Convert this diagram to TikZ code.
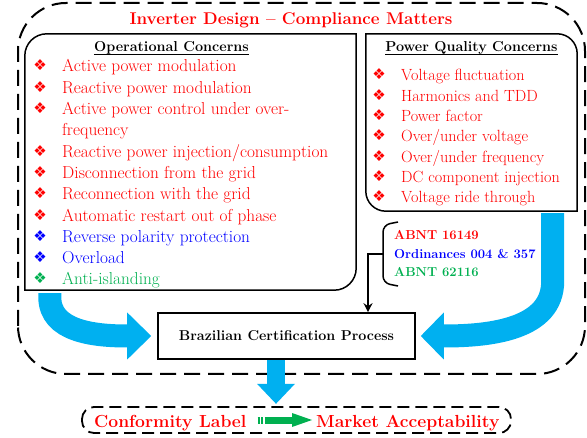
\documentclass[tikz,border=0pt]{standalone}
\usepackage{fontspec}
\usetikzlibrary{arrows.meta}
\newfontfamily\dejavu{DejaVu Sans}
\definecolor{cred}{RGB}{255,0,0}
\definecolor{cblue}{RGB}{0,0,255}
\definecolor{cgreen}{RGB}{0,176,80}
\definecolor{ccyan}{RGB}{0,176,240}

\begin{document}
\begin{tikzpicture}[x=1pt,y=1pt,
        txt/.style={inner sep=0pt,anchor=base west},
        item/.style={txt,font=\fontsize{17.3}{20}\selectfont},
        pqitem/.style={txt,font=\fontsize{16.2}{20}\selectfont},
        dot/.style={inner sep=0pt,font=\dejavu\fontsize{15}{15}\selectfont},
        header/.style={inner sep=0pt,anchor=base,font=\bfseries\fontsize{14.4}{16}\selectfont},
        std/.style={txt,font=\bfseries\fontsize{13}{15}\selectfont},
        panel/.style={draw,line width=1.5pt},
        flow/.style={draw=ccyan,line width=23pt},
        outline/.style={draw,line width=2pt,dash pattern=on 16pt off 8pt}]
  \useasboundingbox (0,0) rectangle (587,437);
  \draw[outline,rounded corners=48] (18,63) rectangle (585,434);
  \node[inner sep=0pt,anchor=base,text=cred,font=\bfseries\fontsize{17}{20}\selectfont] (title) at (291,412)
    {Inverter Design \textendash{} Compliance Matters};

  \node[minimum width=331,minimum height=256] (opsbox) at (190.5,275) {};
  \draw[panel] (opsbox.south west) -- ([yshift=-22pt]opsbox.north west)
    arc[start angle=180,end angle=90,radius=22] -- (opsbox.north east)
    -- ([yshift=22pt]opsbox.south east) arc[start angle=0,end angle=-90,radius=22] -- cycle;
  \node[minimum width=211,minimum height=177] (pqbox) at (471.5,314.5) {};
  \draw[panel] (pqbox.north west) -- ([xshift=-20pt]pqbox.north east)
    arc[start angle=90,end angle=0,radius=20] -- (pqbox.south east)
    -- ([xshift=20pt]pqbox.south west) arc[start angle=270,end angle=180,radius=20] -- cycle;

  \node[header] (ophead) at (171.5,385) {Operational Concerns};
  \draw[line width=0.9pt] ([yshift=-2pt]ophead.base west) -- ([yshift=-2pt]ophead.base east);
  \node[header] (pqhead) at (471.5,385) {Power Quality Concerns};
  \draw[line width=0.9pt] ([yshift=-2pt]pqhead.base west) -- ([yshift=-2pt]pqhead.base east);

  \foreach \k/\txt/\col in {0/Active power modulation/cred, 1/Reactive power modulation/cred,
      2/Active power control under over-/cred, 4/{Reactive power injection/consumption}/cred,
      5/Disconnection from the grid/cred, 6/Reconnection with the grid/cred,
      7/Automatic restart out of phase/cred, 8/Reverse polarity protection/cblue,
      9/Overload/cblue, 10/Anti-islanding/cgreen}{
    \node[dot,text=\col] (opb\k) at (40,365-21.3*\k+6.5) {❖};
    \node[item,text=\col] (op\k) at (62,365-21.3*\k) {\txt};
  }
  \node[item,text=cred] (op3) at (62,365-21.3*3) {frequency};

  \foreach \k/\txt in {0/Voltage fluctuation, 1/Harmonics and TDD, 2/Power factor,
      3/{Over/under voltage}, 4/{Over/under frequency}, 5/DC component injection,
      6/Voltage ride through}{
    \node[dot,text=cred] (pqb\k) at (379,356-20.3*\k+6.5) {❖};
    \node[pqitem,text=cred] (pq\k) at (401,356-20.3*\k) {\txt};
  }

  \node[std,text=cred] (abnt1) at (394,197) {ABNT 16149};
  \node[std,text=cblue] (ordin) at (394,178.5) {Ordinances 004 \& 357};
  \node[std,text=cgreen] (abnt2) at (394,160) {ABNT 62116};
  \draw[line width=1.5pt,rounded corners=7] (398,215) -- (383,212) -- (383,154) -- (398,151);
  \coordinate (brace) at (383,183);

  \node[draw,line width=1.6pt,minimum width=257,minimum height=46,
    font=\bfseries\fontsize{14.3}{16}\selectfont] (proc) at (286.5,101) {Brazilian Certification Process};
  \draw[line width=1.3pt,-{Stealth[length=9pt,width=9pt]}] (brace) -| ([xshift=81.5pt]proc.north);

  \draw[flow] ([xshift=25pt,yshift=-3pt]opsbox.south west) -- ++(0,-4)
    to[out=-90,in=180] ([xshift=-30pt]proc.west);
  \fill[ccyan] ([xshift=-30pt,yshift=23.5pt]proc.west) -- ([xshift=-6pt]proc.west)
    -- ([xshift=-30pt,yshift=-23.5pt]proc.west) -- cycle;
  \draw[flow] ([xshift=-24.5pt,yshift=-2pt]pqbox.south east) -- ++(0,-68)
    to[out=-90,in=0] ([xshift=28pt]proc.east);
  \fill[ccyan] ([xshift=28pt,yshift=23.5pt]proc.east) -- ([xshift=5pt]proc.east)
    -- ([xshift=28pt,yshift=-23.5pt]proc.east) -- cycle;

  \node[txt,text=cred,font=\bfseries\fontsize{17.5}{20}\selectfont] (conf) at (94,10) {Conformity Label};
  \node[txt,text=cred,font=\bfseries\fontsize{17.5}{20}\selectfont] (mkt) at (316,10) {Market Acceptability};
  \draw[outline,line width=1.8pt,dash pattern=on 12pt off 6pt,rounded corners=12] (82,4) rectangle (511,30);

  \draw[draw=ccyan,line width=18pt] ([xshift=-10.5pt]proc.south) -- ++(0,-24);
  \fill[ccyan] ([xshift=-29.5pt,yshift=-24pt]proc.south) -- ([xshift=8.5pt,yshift=-24pt]proc.south)
    -- ([xshift=-10.5pt,yshift=-44pt]proc.south) -- cycle;

  \draw[cgreen,line width=7pt,dash pattern=on 2pt off 1.5pt on 2pt off 1.5pt on 40pt]
    (257.5,17) -- (292,17);
  \fill[cgreen] (292,24) -- (312,17) -- (292,10) -- cycle;
\end{tikzpicture}
\end{document}
